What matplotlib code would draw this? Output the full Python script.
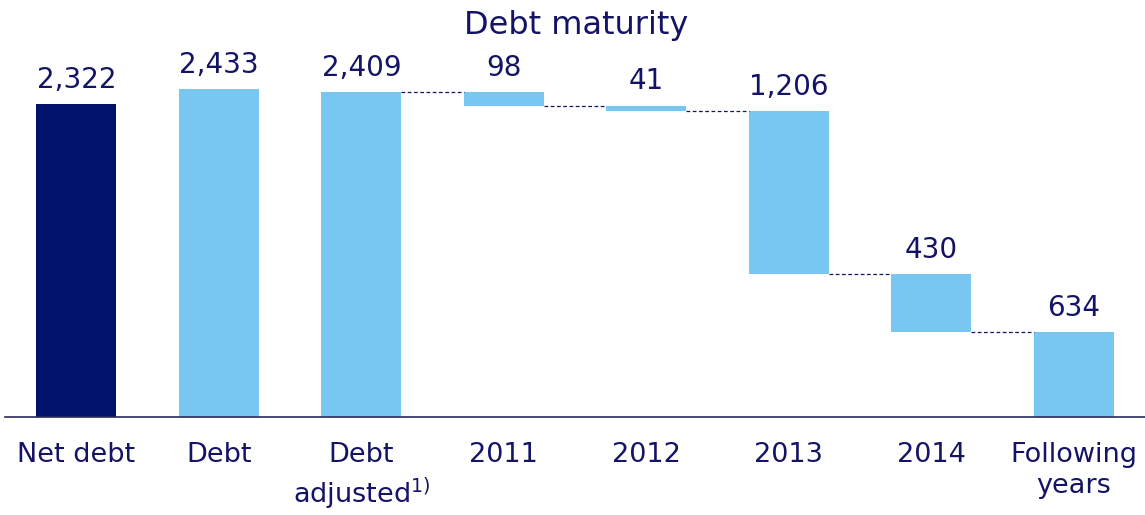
import matplotlib.pyplot as plt

plt.rcParams['font.family'] = ['DejaVu Sans']
plt.rcParams['mathtext.default'] = 'regular'

# debt figures (EUR m)
categories = ['Net debt', 'Debt', 'Debt\nadjusted$^{1)}$', '2011', '2012', '2013', '2014', 'Following\nyears']
totals = [2322, 2433, 2409]
maturities = [98, 41, 1206, 430, 634]

navy = '#00126B'
light = '#78C7F1'
text_col = '#141466'

fig = plt.figure(figsize=(11.45, 5.15), dpi=100)
ax = fig.add_axes([0.0045, 0.19, 0.9955, 0.707])

# totals as plain bars
colors = [navy, light, light]
for i, v in enumerate(totals):
    ax.bar(i, v, width=0.56, color=colors[i])
    ax.text(i, v + 75, f'{v:,}', ha='center', va='bottom', fontsize=20, color=text_col)

# maturities stepping down from adjusted debt
level = totals[-1]
for j, m in enumerate(maturities):
    i = len(totals) + j
    ax.plot([i - 1 + 0.28, i - 0.28], [level, level], ls=(0, (3, 2)), lw=0.9, color=text_col)
    ax.bar(i, -m, bottom=level, width=0.56, color=light)
    ax.text(i, level + 75, f'{m:,}', ha='center', va='bottom', fontsize=20, color=text_col)
    level -= m

ax.set_xlim(-0.5, 7.5)
ax.set_ylim(0, 2700)
ax.set_xticks(range(len(categories)))
ax.set_xticklabels(categories, fontsize=19.5, color=text_col, linespacing=1.25)
ax.tick_params(axis='x', length=0, pad=18)
ax.set_yticks([])
for s in ['top', 'right', 'left']:
    ax.spines[s].set_visible(False)
ax.spines['bottom'].set_color('#2b2b5a')
ax.spines['bottom'].set_linewidth(1.2)

fig.text(0.503, 0.95, 'Debt maturity', ha='center', va='center', fontsize=23, color=text_col)

fig.savefig('out.png', dpi=100)
